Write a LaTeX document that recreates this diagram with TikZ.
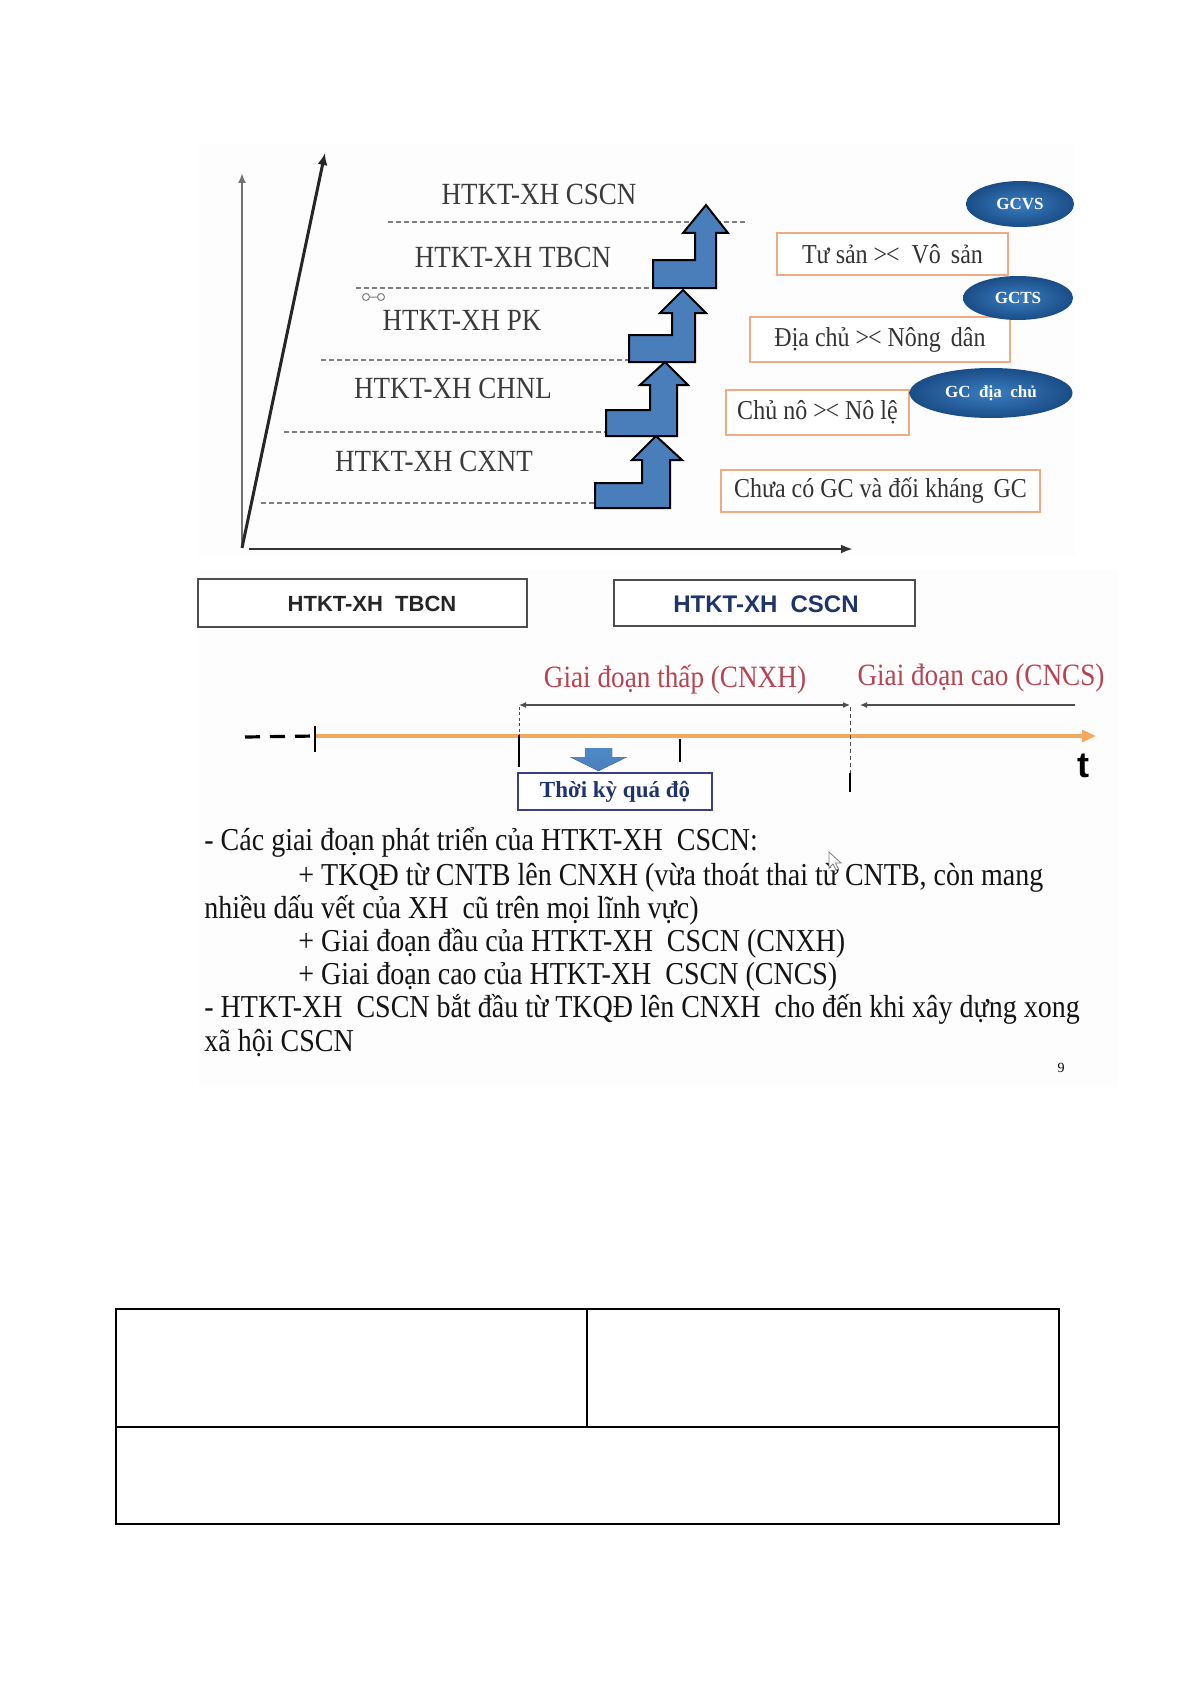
\documentclass[tikz,border=0pt]{standalone}
\usepackage{graphicx}
\usepackage{fontspec}
\setmainfont{Liberation Serif}
\setsansfont{Liberation Sans}
\usetikzlibrary{arrows.meta,shapes.geometric}
\definecolor{labelgray}{HTML}{3C3C3C}
\definecolor{dashgray}{HTML}{7F7F7F}
\definecolor{arrowblue}{HTML}{4A7EBB}
\definecolor{boxorange}{HTML}{F0AA84}
\definecolor{boxtext}{HTML}{333333}
\definecolor{ellin}{HTML}{3A7DC2}
\definecolor{ellout}{HTML}{1A4D86}
\definecolor{stagered}{HTML}{B84452}
\definecolor{orangeline}{HTML}{F3A95E}
\definecolor{navy}{HTML}{1F3468}
\definecolor{periodnavy}{HTML}{3A3F88}
\definecolor{axisgray}{HTML}{4D4D4D}
\definecolor{bggray}{HTML}{FDFDFD}
\definecolor{bodytext}{HTML}{141414}
\newcommand{\tallv}[1]{\scalebox{1}[1.14]{#1}}
\newcommand{\vs}{>\kern-0.05em<}
\begin{document}
\begin{tikzpicture}[x=0.5pt,y=-0.5pt,
  tlabel/.style={font=\fontsize{13.5}{16}\selectfont, text=labelgray, inner sep=0pt},
  gline/.style={draw=dashgray, line width=0.6pt, dash pattern=on 2.5pt off 1.5pt},
  stair/.style={draw=black, line width=1pt, fill=arrowblue, line join=miter},
  cbox/.style={draw=boxorange, line width=0.9pt, fill=white, inner sep=0pt, font=\fontsize{12}{14}\selectfont, text=boxtext},
  cls/.style={ellipse, shading=radial, inner color=ellin, outer color=ellout, text=white, font=\bfseries\fontsize{8.5}{9}\selectfont, inner sep=0pt},
  erabox/.style={draw=axisgray, line width=1.1pt, fill=white, inner sep=0pt},
  eratext/.style={font=\sffamily\bfseries\fontsize{11}{13}\selectfont, inner sep=0pt},
  stage/.style={text=stagered, font=\fontsize{13.6}{15}\selectfont, inner sep=0pt},
  tickmark/.style={draw=black, line width=1pt},
  bodyline/.style={font=\fontsize{14}{16}\selectfont, text=bodytext, anchor=base west, inner sep=0pt},
  tablestyle/.style={draw=black, line width=0.8pt}
]
\useasboundingbox (0,0) rectangle (1192,1685);

% slide backgrounds
\fill[bggray] (198,144) rectangle (1075,557);
\fill[bggray] (199,570) rectangle (1118,1087);

% ---------------- top diagram ----------------
\coordinate (orig) at (242,548);
\coordinate (vtop) at (242,173);
\coordinate (dtop) at (325,153);
\coordinate (hstart) at (249,549);
\coordinate (hend) at (853,549);
\draw[axisgray!80, line width=1pt, -{Latex[length=5pt,width=4pt]}] (orig) -- (vtop);
\draw[black!85, line width=1.5pt, -{Latex[length=6pt,width=5pt]}] (orig) -- (dtop);
\draw[black!80, line width=1.2pt, -{Latex[length=6pt,width=4.5pt]}] (hstart) -- (hend);

% dashed level lines
\coordinate (l1a) at (388,222); \coordinate (l1b) at (746,222);
\coordinate (l2a) at (356,288); \coordinate (l2b) at (717,288);
\coordinate (l3a) at (321,360); \coordinate (l3b) at (629,360);
\coordinate (l4a) at (284,432); \coordinate (l4b) at (606,432);
\coordinate (l5a) at (261,503); \coordinate (l5b) at (595,503);
\draw[gline] (l1a) -- (l1b);
\draw[gline] (l2a) -- (l2b);
\draw[gline] (l3a) -- (l3b);
\draw[gline] (l4a) -- (l4b);
\draw[gline] (l5a) -- (l5b);

% level labels
\node[tlabel] (cscn) at (539,194) {\tallv{HTKT-XH CSCN}};
\node[tlabel] (tbcn) at (513,257) {\tallv{HTKT-XH TBCN}};
\node[tlabel] (pk)   at (462,320) {\tallv{HTKT-XH PK}};
\node[tlabel] (chnl) at (453,388) {\tallv{HTKT-XH CHNL}};
\node[tlabel] (cxnt) at (434,461) {\tallv{HTKT-XH CXNT}};

% small connector icon
\draw[gray, line width=0.5pt] (366,297) circle (3.5) (381,297) circle (3.5) (369.5,297) -- (377.5,297);

% step arrows
\foreach \aL/\aB/\aT/\aSL/\aSR/\aHB/\aHL/\aHR/\aX/\aY in {
  653/288/260/695/716/233/683/728/706/205,
  629/362/335/672/695/313/660/706/683/290,
  606/436/410/650/677/385/640/688/665/362,
  595/508/483/642/670/460/632/682/656/436}{
  \draw[stair] (\aL,\aB) -- (\aSR,\aB) -- (\aSR,\aHB) -- (\aHR,\aHB) -- (\aX,\aY)
     -- (\aHL,\aHB) -- (\aSL,\aHB) -- (\aSL,\aT) -- (\aL,\aT) -- cycle;
}

% class boxes
\node[cbox, minimum width=115.5pt, minimum height=21pt] (tusan) at (892.5,254) {\tallv{Tư sản \vs\ \ Vô\, sản}};
\node[cbox, minimum width=130pt, minimum height=22.5pt] (diachu) at (880,339.5) {\tallv{Địa chủ \vs\ Nông\, dân}};
\node[cbox, minimum width=91.5pt, minimum height=22.5pt] (chuno) at (817.5,412.5) {\tallv{Chủ nô \vs\ Nô lệ}};
\node[cbox, minimum width=159.5pt, minimum height=21pt] (chuaco) at (880.5,491) {\tallv{Chưa có GC và đối kháng\, GC}};

% class ellipses
\node[cls, minimum width=54pt, minimum height=23pt] (gcvs) at (1020,204) {GCVS};
\node[cls, minimum width=55pt, minimum height=22pt] (gcts) at (1018,298) {GCTS};
\node[cls, minimum width=81.5pt, minimum height=25pt] (gcdc) at (991,393) {GC\ \ địa\ \ chủ};

% ---------------- bottom diagram ----------------
\draw[erabox] (198,579) rectangle (527,627);
\node[eratext, text=black!85] (eratb) at (372,604) {HTKT-XH\ \ TBCN};
\draw[erabox] (614,580) rectangle (915,626);
\node[eratext, text=navy, font=\sffamily\bfseries\fontsize{12}{14}\selectfont] (eracs) at (766,604) {HTKT-XH\ \ CSCN};

\node[stage] (low) at (675,680) {\tallv{Giai đoạn thấp (CNXH)}};
\node[stage] (high) at (981,678) {\tallv{Giai đoạn cao (CNCS)}};

% timeline
\coordinate (tstart) at (315,736);
\coordinate (tend) at (1096,736);
\draw[orangeline, line width=1.6pt, -{Triangle[length=7pt,width=6pt]}] (tstart) -- (tend);
\coordinate (dl) at (245,737);
\draw[black, line width=1.6pt, dash pattern=on 7.5pt off 5pt] (dl) -- (tstart);
\coordinate (t0a) at (315,726); \coordinate (t0b) at (315,752);
\draw[tickmark, line width=1.1pt] (t0a) -- (t0b);

% dimension lines
\coordinate (da) at (519,705); \coordinate (db) at (850,705);
\coordinate (ea) at (1075,705); \coordinate (eb) at (860,705);
\draw[axisgray, line width=0.6pt, {Latex[length=3.5pt,width=3pt]}-{Latex[length=3.5pt,width=3pt]}] (da) -- (db);
\draw[axisgray, line width=0.6pt, -{Latex[length=3.5pt,width=3pt]}] (ea) -- (eb);
\coordinate (va1) at (519,707); \coordinate (va2) at (519,735); \coordinate (va3) at (519,767);
\draw[axisgray, line width=0.5pt, dash pattern=on 1.5pt off 1.2pt] (va1) -- (va2);
\draw[tickmark] (va2) -- (va3);
\coordinate (vm1) at (680,739); \coordinate (vm2) at (680,762);
\draw[tickmark, line width=0.8pt] (vm1) -- (vm2);
\coordinate (vb1) at (850,707); \coordinate (vb2) at (850,778); \coordinate (vb3) at (850,773); \coordinate (vb4) at (850,792);
\draw[axisgray, line width=0.5pt, dash pattern=on 2pt off 1.5pt] (vb1) -- (vb2);
\draw[tickmark, line width=0.8pt] (vb3) -- (vb4);

% down block arrow
\fill[top color=ellin!90, bottom color=arrowblue] (585,748) -- (612,748) -- (612,757) -- (627,757) -- (598.5,771) -- (570,757) -- (585,757) -- cycle;

\node[draw=periodnavy, line width=1pt, fill=white, minimum width=97pt, minimum height=18.5pt, inner sep=0pt,
  text=navy, font=\bfseries\fontsize{11.5}{13}\selectfont] (tkqd) at (615,791.5) {Thời kỳ quá độ};

\node[font=\sffamily\bfseries\fontsize{18}{20}\selectfont, inner sep=0pt] (tlab) at (1083,766) {t};

% paragraph
\node[bodyline] (p1) at (204,850) {\tallv{- Các giai đoạn phát triển của HTKT-XH\ \ CSCN:}};
\node[bodyline] (p2) at (298,885) {\tallv{+ TKQĐ từ CNTB lên CNXH (vừa thoát thai từ CNTB, còn mang}};
\node[bodyline] (p3) at (204,918) {\tallv{nhiều dấu vết của XH\ \ cũ trên mọi lĩnh vực)}};
\node[bodyline] (p4) at (298,951) {\tallv{+ Giai đoạn đầu của HTKT-XH\ \ CSCN (CNXH)}};
\node[bodyline] (p5) at (298,984) {\tallv{+ Giai đoạn cao của HTKT-XH\ \ CSCN (CNCS)}};
\node[bodyline] (p6) at (204,1017) {\tallv{- HTKT-XH\ \ CSCN bắt đầu từ TKQĐ lên CNXH\ \ cho đến khi xây dựng xong}};
\node[bodyline] (p7) at (204,1051) {\tallv{xã hội CSCN}};
\node[font=\fontsize{7}{8}\selectfont, inner sep=0pt] (pnum) at (1061,1068) {9};

% mouse cursor
\draw[gray, line width=0.4pt, fill=white] (829,852) -- (829,868) -- (833,864) -- (836,870) -- (838.5,869) -- (835.5,863) -- (841,863) -- cycle;

% ---------------- empty table ----------------
\draw[tablestyle] (116,1309) rectangle (1059,1524);
\coordinate (tm1) at (116,1427); \coordinate (tm2) at (1059,1427);
\coordinate (tv1) at (587,1309); \coordinate (tv2) at (587,1427);
\draw[tablestyle] (tm1) -- (tm2);
\draw[tablestyle] (tv1) -- (tv2);
\end{tikzpicture}
\end{document}
